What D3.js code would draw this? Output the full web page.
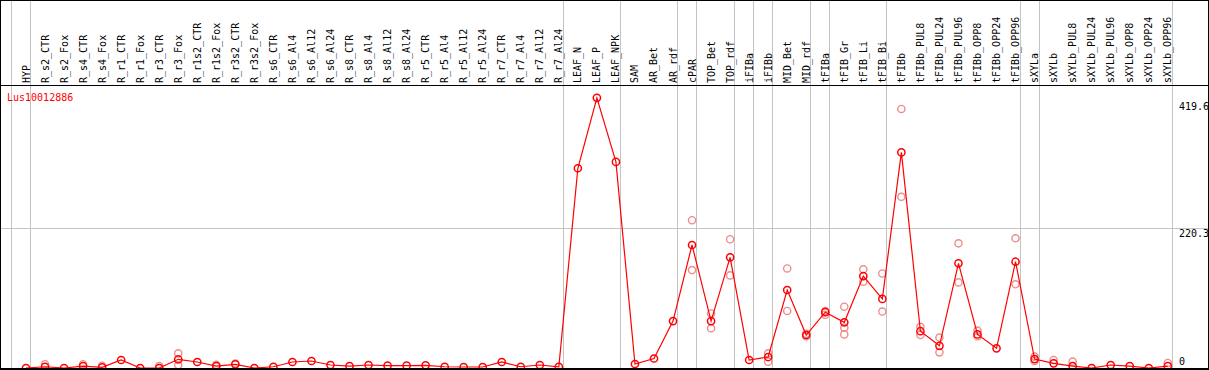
<!DOCTYPE html>
<html>
<head>
<meta charset="utf-8">
<script src="https://d3js.org/d3.v7.min.js"></script>
<style>
  body { margin: 0; background: #fff; }
  text { font-family: "DejaVu Sans Mono", monospace; font-size: 10px; }
</style>
</head>
<body>
<script>
  var categories = ["HYP", "R_s2_CTR", "R_s2_Fox", "R_s4_CTR", "R_s4_Fox", "R_r1_CTR", "R_r1_Fox", "R_r3_CTR", "R_r3_Fox",
    "R_r1s2_CTR", "R_r1s2_Fox", "R_r3s2_CTR", "R_r3s2_Fox", "R_s6_CTR", "R_s6_Al4", "R_s6_Al12", "R_s6_Al24",
    "R_s8_CTR", "R_s8_Al4", "R_s8_Al12", "R_s8_Al24", "R_r5_CTR", "R_r5_Al4", "R_r5_Al12", "R_r5_Al24",
    "R_r7_CTR", "R_r7_Al4", "R_r7_Al12", "R_r7_Al24", "LEAF_N", "LEAF_P", "LEAF_NPK", "SAM", "AR_Bet", "AR_rdf",
    "cPAR", "TOP_Bet", "TOP_rdf", "iFIBa", "iFIBb", "MID_Bet", "MID_rdf", "tFIBa", "tFIB_Gr", "tFIB_Li", "tFIB_Bi",
    "tFIBb", "tFIBb_PUL8", "tFIBb_PUL24", "tFIBb_PUL96", "tFIBb_OPP8", "tFIBb_OPP24", "tFIBb_OPP96",
    "sXYLa", "sXYLb", "sXYLb_PUL8", "sXYLb_PUL24", "sXYLb_PUL96", "sXYLb_OPP8", "sXYLb_OPP24", "sXYLb_OPP96"]

  // mean expression per tissue
  var means = [0, 2, 0, 3, 1, 12.6, 0, 0, 13.7,
    9.5, 3, 5.8, 0, 2, 9.5, 11, 4.7,
    3, 4.7, 3.7, 3.7, 4.2, 2, 1.6, 1.6,
    9.5, 2, 4.7, 2, 315, 426, 325, 6.3, 15, 74,
    194, 74, 174.5, 12.6, 17.3, 123, 52, 88, 72, 145, 109,
    340, 58, 35, 165, 53, 31, 167.6,
    14, 7.4, 3, 0, 4.7, 3, 0, 3]

  // replicates (only those visible apart from the mean)
  var repA = [null, 6, null, 6, 3.6, null, null, 3, 23,
    null, 5, 7, null, null, null, null, null,
    null, null, null, null, null, null, null, null,
    null, null, null, null, null, null, null, null, null, null,
    233, 86, 203, null, 23, 157, 54, 90, 96.7, 155.6, 149,
    408.5, 65, 48, 196.6, 59, null, 204.5,
    18, 12.6, 10, null, null, null, null, 8]
  var repB = [null, null, null, null, null, null, null, null, 4.7,
    null, null, null, null, null, null, null, null,
    null, null, null, null, null, null, null, null,
    null, null, null, null, null, null, null, null, null, null,
    154.5, 62.6, 146, null, 10, 90, 50, 84, 63.6, 136, 89,
    270, 52, 24.7, 135, 50, null, 132,
    11, null, null, null, null, null, null, null]
  var repC = categories.map(c => c === "tFIB_Gr" ? 53 : null)

  var groupEnds = ["HYP", "R_r7_Al24", "LEAF_NPK", "AR_rdf", "cPAR", "TOP_rdf", "iFIBa", "iFIBb", "MID_rdf",
    "tFIBa", "tFIB_Bi", "tFIBb_OPP96", "sXYLa", "sXYLb_OPP96"]
  var yLabels = [0, 220.3, 419.6]
  var gene = "Lus10012886"

  var W = 1209, H = 370, headY = 85, baseY = 368

  var x = d3.scalePoint().domain(categories).range([26, 26 + 19.03 * (categories.length - 1)])
  var y = d3.scaleLinear().domain([0, 220.3]).range([baseY, 228.3])
  var step = x.step()

  var svg = d3.select("body").append("svg").attr("width", W).attr("height", H)
  svg.append("rect").attr("width", W).attr("height", H).attr("fill", "#fff")

  svg.append("clipPath").attr("id", "plotclip").append("rect")
    .attr("x", 1).attr("y", headY).attr("width", W - 2).attr("height", baseY - headY)

  // vertical group lines
  var gx = [x(categories[0]) - step + 4].concat(groupEnds.map(c => x(c) + 4))
  svg.selectAll("line.vg").data(gx).enter().append("line")
    .attr("x1", d => Math.round(d) + 0.5).attr("x2", d => Math.round(d) + 0.5)
    .attr("y1", 0).attr("y2", baseY)
    .attr("stroke", "#c4c4c4").attr("stroke-width", 1)

  // horizontal grid at middle label
  svg.append("line")
    .attr("x1", 0).attr("x2", W).attr("y1", Math.round(y(220.3)) + 0.5).attr("y2", Math.round(y(220.3)) + 0.5)
    .attr("stroke", "#c4c4c4")

  // header labels
  svg.selectAll("text.cat").data(categories).enter().append("text")
    .attr("transform", d => `translate(${x(d) + 3.5},83) rotate(-90)`)
    .attr("fill", "#000")
    .text(d => d)

  svg.append("text").attr("x", 7).attr("y", 101).attr("fill", "red").text(gene)

  svg.selectAll("text.yl").data(yLabels).enter().append("text")
    .attr("x", 1179).attr("y", d => Math.min(y(d) + 8.5, 365))
    .attr("fill", "#000")
    .text(d => d)

  var plot = svg.append("g").attr("clip-path", "url(#plotclip)")

  // replicate points
  var reps = []
  ;[repA, repB, repC].forEach(arr => arr.forEach((v, i) => { if (v != null) reps.push({ c: categories[i], v }) }))
  plot.selectAll("circle.rep").data(reps).enter().append("circle")
    .attr("cx", d => x(d.c)).attr("cy", d => y(d.v)).attr("r", 3.6)
    .attr("fill", "none").attr("stroke", "#ee8c8c").attr("stroke-width", 1.4)

  var pts = categories.map((c, i) => ({ c, v: means[i] }))
  plot.append("path").datum(pts)
    .attr("d", d3.line().x(d => x(d.c)).y(d => y(d.v)))
    .attr("fill", "none").attr("stroke", "red").attr("stroke-width", 1.2)

  plot.selectAll("circle.mean").data(pts).enter().append("circle")
    .attr("cx", d => x(d.c)).attr("cy", d => y(d.v)).attr("r", 3.6)
    .attr("fill", "none").attr("stroke", "red").attr("stroke-width", 1.5)

  // frame
  svg.append("line").attr("x1", 0).attr("x2", W).attr("y1", headY + 0.5).attr("y2", headY + 0.5).attr("stroke", "#000")
  svg.append("line").attr("x1", 0).attr("x2", W).attr("y1", 0.5).attr("y2", 0.5).attr("stroke", "#000")
  svg.append("line").attr("x1", 0).attr("x2", W).attr("y1", baseY + 1).attr("y2", baseY + 1).attr("stroke", "#000").attr("stroke-width", 2)
  svg.append("line").attr("x1", 0.5).attr("x2", 0.5).attr("y1", 0).attr("y2", H).attr("stroke", "#000")
  svg.append("line").attr("x1", W - 0.5).attr("x2", W - 0.5).attr("y1", 0).attr("y2", H).attr("stroke", "#000")
</script>
</body>
</html>
